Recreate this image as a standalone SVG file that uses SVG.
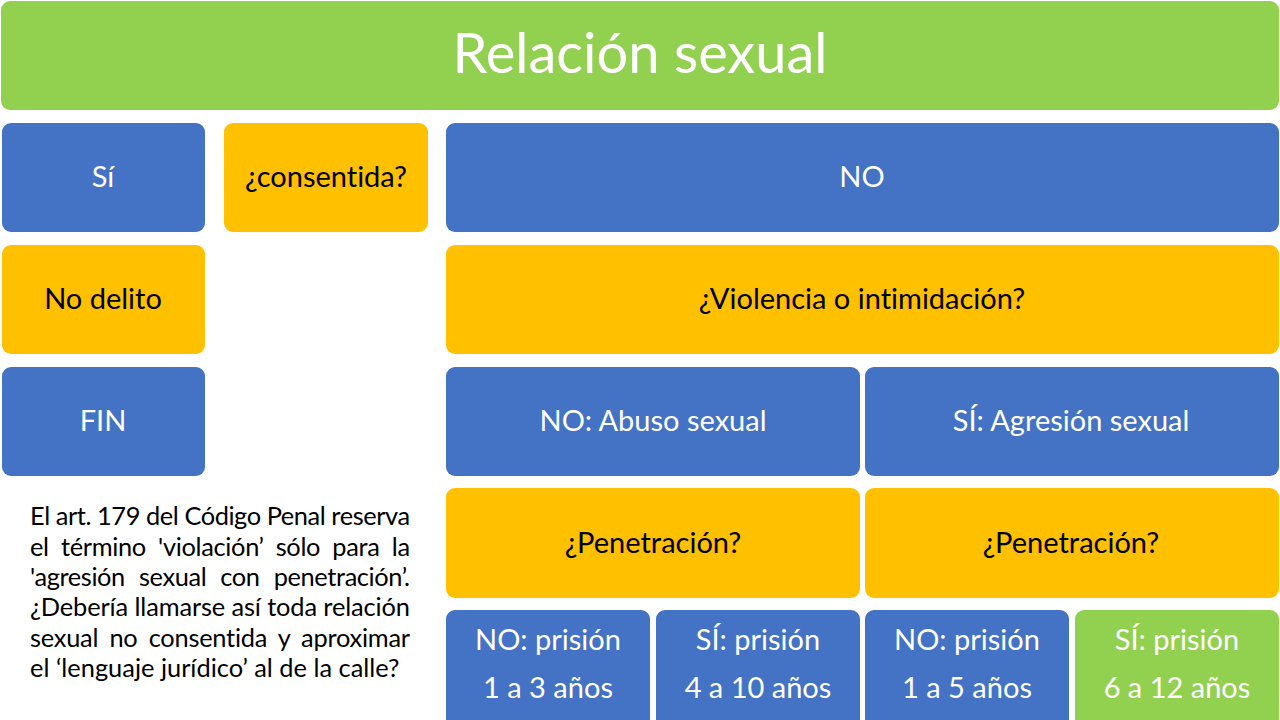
<svg xmlns="http://www.w3.org/2000/svg" width="1280" height="720" viewBox="0 0 1280 720">
<style>
.b{fill:#4472C4}
.o{fill:#FFC000}
.g{fill:#92D050}
text{font-family:Lato,"Liberation Sans",sans-serif;text-anchor:middle;font-variant-ligatures:none}
.w{fill:#FFFFFF;font-size:29px}
.k{fill:#000000;font-size:29px}
.t{fill:#FFFFFF;font-size:56px}
.p{fill:#000000;font-size:25.4px;text-anchor:start}
</style>
<rect width="1280" height="720" fill="#FFFFFF"/>
<g id="title"><rect class="g" x="1" y="1" width="1278" height="109" rx="9"/><text class="t" x="640" y="73">Relación sexual</text></g>
<g id="si"><rect class="b" x="2" y="123" width="203" height="109" rx="9"/><text class="w" x="103" y="187">Sí</text></g>
<g id="consentida"><rect class="o" x="224" y="123" width="204" height="109" rx="9"/><text class="k" x="326" y="187">¿consentida?</text></g>
<g id="no"><rect class="b" x="446" y="123" width="833" height="109" rx="9"/><text class="w" x="862" y="187">NO</text></g>
<g id="nodelito"><rect class="o" x="2" y="245" width="203" height="109" rx="9"/><text class="k" x="103" y="309">No delito</text></g>
<g id="violencia"><rect class="o" x="446" y="245" width="833" height="109" rx="9"/><text class="k" x="862" y="309">¿Violencia o intimidación?</text></g>
<g id="fin"><rect class="b" x="2" y="367" width="203" height="109" rx="9"/><text class="w" x="103" y="431">FIN</text></g>
<g id="abuso"><rect class="b" x="446" y="367" width="414" height="109" rx="9"/><text class="w" x="653" y="431">NO: Abuso sexual</text></g>
<g id="agresion"><rect class="b" x="865" y="367" width="414" height="109" rx="9"/><text class="w" x="1071" y="431">SÍ: Agresión sexual</text></g>
<g id="pen1"><rect class="o" x="446" y="488" width="414" height="110" rx="9"/><text class="k" x="653" y="553">¿Penetración?</text></g>
<g id="pen2"><rect class="o" x="865" y="488" width="414" height="110" rx="9"/><text class="k" x="1071" y="553">¿Penetración?</text></g>
<g id="r1"><rect class="b" x="446" y="610" width="204" height="120" rx="9"/><text class="w" x="548" y="650">NO: prisión</text><text class="w" x="548" y="698">1 a 3 años</text></g>
<g id="r2"><rect class="b" x="656" y="610" width="204" height="120" rx="9"/><text class="w" x="758" y="650">SÍ: prisión</text><text class="w" x="758" y="698">4 a 10 años</text></g>
<g id="r3"><rect class="b" x="865" y="610" width="204" height="120" rx="9"/><text class="w" x="967" y="650">NO: prisión</text><text class="w" x="967" y="698">1 a 5 años</text></g>
<g id="r4"><rect class="g" x="1075" y="610" width="204" height="120" rx="9"/><text class="w" x="1177" y="650">SÍ: prisión</text><text class="w" x="1177" y="698">6 a 12 años</text></g>
<g id="note">
<text class="p" x="30" y="525" textLength="380" lengthAdjust="spacing">El art. 179 del Código Penal reserva</text>
<text class="p" x="30" y="555.5" textLength="380" lengthAdjust="spacing" word-spacing="6">el término 'violación’ sólo para la</text>
<text class="p" x="30" y="586" textLength="380" lengthAdjust="spacing" word-spacing="8">'agresión sexual con penetración’.</text>
<text class="p" x="30" y="616" textLength="380" lengthAdjust="spacing">¿Debería llamarse así toda relación</text>
<text class="p" x="30" y="646.5" textLength="380" lengthAdjust="spacing" word-spacing="5">sexual no consentida y aproximar</text>
<text class="p" x="30" y="677">el ‘lenguaje jurídico’ al de la calle?</text>
</g>
<g id="connectors"/>
</svg>
